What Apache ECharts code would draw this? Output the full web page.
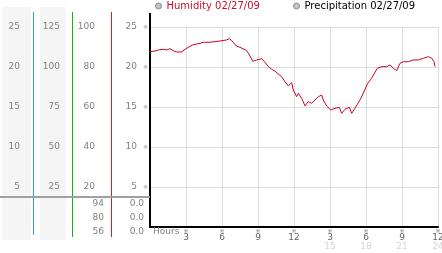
<!DOCTYPE html>
<html><head><meta charset="utf-8">
<script src="https://cdn.jsdelivr.net/npm/echarts@6/dist/echarts.min.js"></script>
<style>html,body{margin:0;padding:0;background:#fff}#c{width:442px;height:253px}</style>
</head><body><div id="c"></div>
<script>
const hours = [0,0.42,0.69,1.11,1.39,1.67,1.94,2.22,2.64,2.92,3.19,3.61,4.17,4.44,5.0,5.83,6.39,6.61,6.81,7.17,7.5,8.06,8.33,8.56,8.89,9.31,9.58,9.86,10.14,10.42,10.69,10.97,11.25,11.53,11.81,11.94,12.22,12.36,12.64,12.92,13.19,13.47,13.75,14.03,14.31,14.44,14.72,15.06,15.42,15.78,15.97,16.25,16.61,16.81,17.08,17.5,17.83,18.11,18.47,18.94,19.31,19.72,20.0,20.28,20.56,20.83,21.11,21.53,21.94,22.36,22.78,23.19,23.47,23.67,23.75];
const humidity = [21.91,22.0,22.13,22.21,22.13,22.29,22.04,21.88,21.88,22.21,22.46,22.79,22.96,23.09,23.09,23.25,23.38,23.54,23.29,22.66,22.46,22.04,21.38,20.71,20.88,21.04,20.59,20.04,19.71,19.5,19.13,18.79,18.16,17.63,18.04,17.13,16.29,16.71,16.09,15.13,15.66,15.46,15.88,16.29,16.5,15.88,15.13,14.63,14.84,14.96,14.21,14.71,14.96,14.21,14.84,15.88,16.91,17.88,18.59,19.84,20.04,20.04,20.25,19.84,19.54,20.46,20.66,20.66,20.88,20.88,21.09,21.29,21.09,20.66,20.04];
const precipitation = [];
const seriesNames = ['Humidity 02/27/09', 'Precipitation 02/27/09'];
const col1Max = 25, col1Step = 5;
const col2Max = 125, col2Step = 25;
const col3Max = 100, col3Step = 20;
const mainMax = 25, mainStep = 5;
const hourMax = 24, hourStep = 3;
const xAxisTitle = 'Hours';
const col3Bottom = ['94', '80', '56'];
const col4Bottom = ['0.0', '0.0', '0.0'];

const F = 'DejaVu Sans';
const LBL = '#808080';
const chart = echarts.init(document.getElementById('c'), null, {renderer: 'canvas'});

function sideAxis(max, step, offset, extra) {
  return Object.assign({
    type: 'value', position: 'left', min: 0, max: max, interval: step, offset: offset,
    axisLine: {show: false}, axisTick: {show: false}, splitLine: {show: false},
    axisLabel: {showMinLabel: false, fontFamily: F, fontSize: 9, color: LBL, margin: 0}
  }, extra || {});
}

const bottomTexts = [];
col3Bottom.forEach((t, i) => bottomTexts.push({type: 'text', x: 104, y: 204 + i * 14, z: 20,
  style: {text: t, font: '9px "DejaVu Sans"', fill: LBL, align: 'right', verticalAlign: 'middle'}}));
col4Bottom.forEach((t, i) => bottomTexts.push({type: 'text', x: 144, y: 204 + i * 14, z: 20,
  style: {text: t, font: '9px "DejaVu Sans"', fill: LBL, align: 'right', verticalAlign: 'middle'}}));

chart.setOption({
  animation: false,
  grid: {left: 150, right: 4, top: 27, bottom: 26, containLabel: false, outerBoundsMode: 'none'},
  legend: [
    {data: [{name: seriesNames[0], textStyle: {color: '#c8102e'}}], left: 155, top: 1, itemWidth: 6, itemHeight: 6,
      icon: 'circle', itemStyle: {color: '#c4c4c4', borderColor: '#8a8a8a', borderWidth: 1},
      textStyle: {fontFamily: F, fontSize: 10}, padding: 0},
    {data: [{name: seriesNames[1], textStyle: {color: '#000'}}], left: 293, top: 1, itemWidth: 6, itemHeight: 6,
      icon: 'circle', itemStyle: {color: '#c4c4c4', borderColor: '#8a8a8a', borderWidth: 1},
      textStyle: {fontFamily: F, fontSize: 10}, padding: 0}
  ],
  xAxis: {
    type: 'value', min: 0, max: hourMax, interval: hourStep,
    axisLine: {lineStyle: {color: '#000', width: 2}},
    axisTick: {show: false},
    splitLine: {show: true, lineStyle: {color: '#dcdcdc', width: 1}},
    axisLabel: {
      showMinLabel: false, margin: 1, verticalAlign: 'top',
      formatter: v => {
        const h = v > 12 ? v - 12 : v;
        return '{m|※}\n{n|' + h + '}' + (v > 12 ? '\n{l|' + v + '}' : '');
      },
      rich: {
        m: {fontFamily: F, fontSize: 6, lineHeight: 6, color: '#888', align: 'center'},
        n: {fontFamily: F, fontSize: 9, lineHeight: 8, color: '#666', align: 'center'},
        l: {fontFamily: F, fontSize: 9, lineHeight: 9, color: '#d4d4d4', align: 'center'}
      }
    }
  },
  yAxis: [
    sideAxis(mainMax, mainStep, 0, {
      axisLine: {show: true, lineStyle: {color: '#000', width: 2}},
      splitLine: {show: true, lineStyle: {color: '#dcdcdc', width: 1}},
      axisLabel: {showMinLabel: false, fontFamily: F, fontSize: 9, color: LBL, margin: 13}
    }),
    sideAxis(col1Max, col1Step, 130),
    sideAxis(col2Max, col2Step, 90),
    sideAxis(col3Max, col3Step, 55),
    sideAxis(mainMax, mainStep, 0, {
      axisLabel: {showMinLabel: false, fontFamily: F, fontSize: 6, color: '#999', margin: 2, formatter: () => '※'}
    })
  ],
  graphic: [
    {type: 'rect', shape: {x: 2, y: 7, width: 29, height: 233}, style: {fill: '#f5f5f5'}, z: -10},
    {type: 'rect', shape: {x: 40, y: 7, width: 26, height: 233}, style: {fill: '#f5f5f5'}, z: -10},
    {type: 'rect', shape: {x: 33, y: 12, width: 1, height: 223}, style: {fill: '#2aa0dc'}, z: 10},
    {type: 'rect', shape: {x: 72, y: 12, width: 1, height: 225}, style: {fill: '#22aa22'}, z: 10},
    {type: 'rect', shape: {x: 111, y: 12, width: 1, height: 225}, style: {fill: '#d42020'}, z: 10},
    {type: 'rect', shape: {x: 0, y: 196, width: 150, height: 2}, style: {fill: '#a0a0a0'}, z: 11},
    {type: 'rect', shape: {x: 149, y: 13, width: 2, height: 15}, style: {fill: '#000'}, z: 10},
    {type: 'text', x: 153, y: 232, z: 20, style: {text: xAxisTitle, font: '9px "DejaVu Sans"', fill: LBL, verticalAlign: 'middle'}}
  ].concat(bottomTexts),
  series: [
    {name: seriesNames[0], type: 'line', xAxisIndex: 0, yAxisIndex: 0, showSymbol: false,
      data: hours.map((h, i) => [h, humidity[i]]), lineStyle: {color: '#cc0022', width: 1}, itemStyle: {color: '#cc0022'}},
    {name: seriesNames[1], type: 'line', xAxisIndex: 0, yAxisIndex: 0, showSymbol: false,
      data: precipitation, lineStyle: {color: '#333', width: 1}, itemStyle: {color: '#333'}}
  ]
});
</script></body></html>
